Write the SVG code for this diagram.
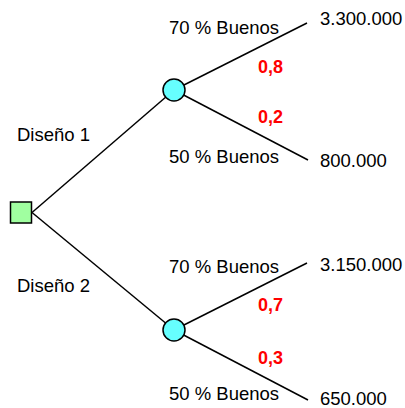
<svg xmlns="http://www.w3.org/2000/svg" width="405" height="408" viewBox="0 0 405 408">
<style>
.t{font-family:"Liberation Sans",Arial,sans-serif;font-size:18.5px;fill:#000}
.p{font-family:"Liberation Sans",Arial,sans-serif;font-size:18px;font-weight:bold;fill:#ff0000}
.ln{stroke:#000;stroke-width:1.5;fill:none}
.ch{fill:#66ffff;stroke:#000;stroke-width:1.5}
.dec{fill:#a0ffa0;stroke:#000;stroke-width:1.5}
</style>
<rect width="405" height="408" fill="#fff"/>
<g id="connectors">
<line class="ln" x1="32" y1="212.5" x2="174" y2="90"/>
<line class="ln" x1="32" y1="212.5" x2="174" y2="330"/>
<line class="ln" x1="174" y1="90" x2="307" y2="23"/>
<line class="ln" x1="174" y1="90" x2="308" y2="160"/>
<line class="ln" x1="174" y1="330" x2="307" y2="263"/>
<line class="ln" x1="174" y1="330" x2="308" y2="400"/>
</g>
<g id="decision">
<rect class="dec" x="10.5" y="202" width="21" height="21"/>
</g>
<g id="chance1">
<circle class="ch" cx="174" cy="90" r="11"/>
</g>
<g id="chance2">
<circle class="ch" cx="174" cy="330" r="11"/>
</g>
<g id="labels">
<text class="t" x="17" y="141">Diseño 1</text>
<text class="t" x="17" y="292">Diseño 2</text>
<text class="t" x="169" y="34">70 % Buenos</text>
<text class="t" x="169" y="163">50 % Buenos</text>
<text class="t" x="169" y="273">70 % Buenos</text>
<text class="t" x="169" y="400">50 % Buenos</text>
<text class="p" x="258" y="73">0,8</text>
<text class="p" x="258" y="123">0,2</text>
<text class="p" x="258" y="311">0,7</text>
<text class="p" x="258" y="364">0,3</text>
</g>
<g id="outcomes">
<text class="t" x="320" y="25">3.300.000</text>
<text class="t" x="320" y="167">800.000</text>
<text class="t" x="320" y="271">3.150.000</text>
<text class="t" x="320" y="405">650.000</text>
</g>
</svg>
